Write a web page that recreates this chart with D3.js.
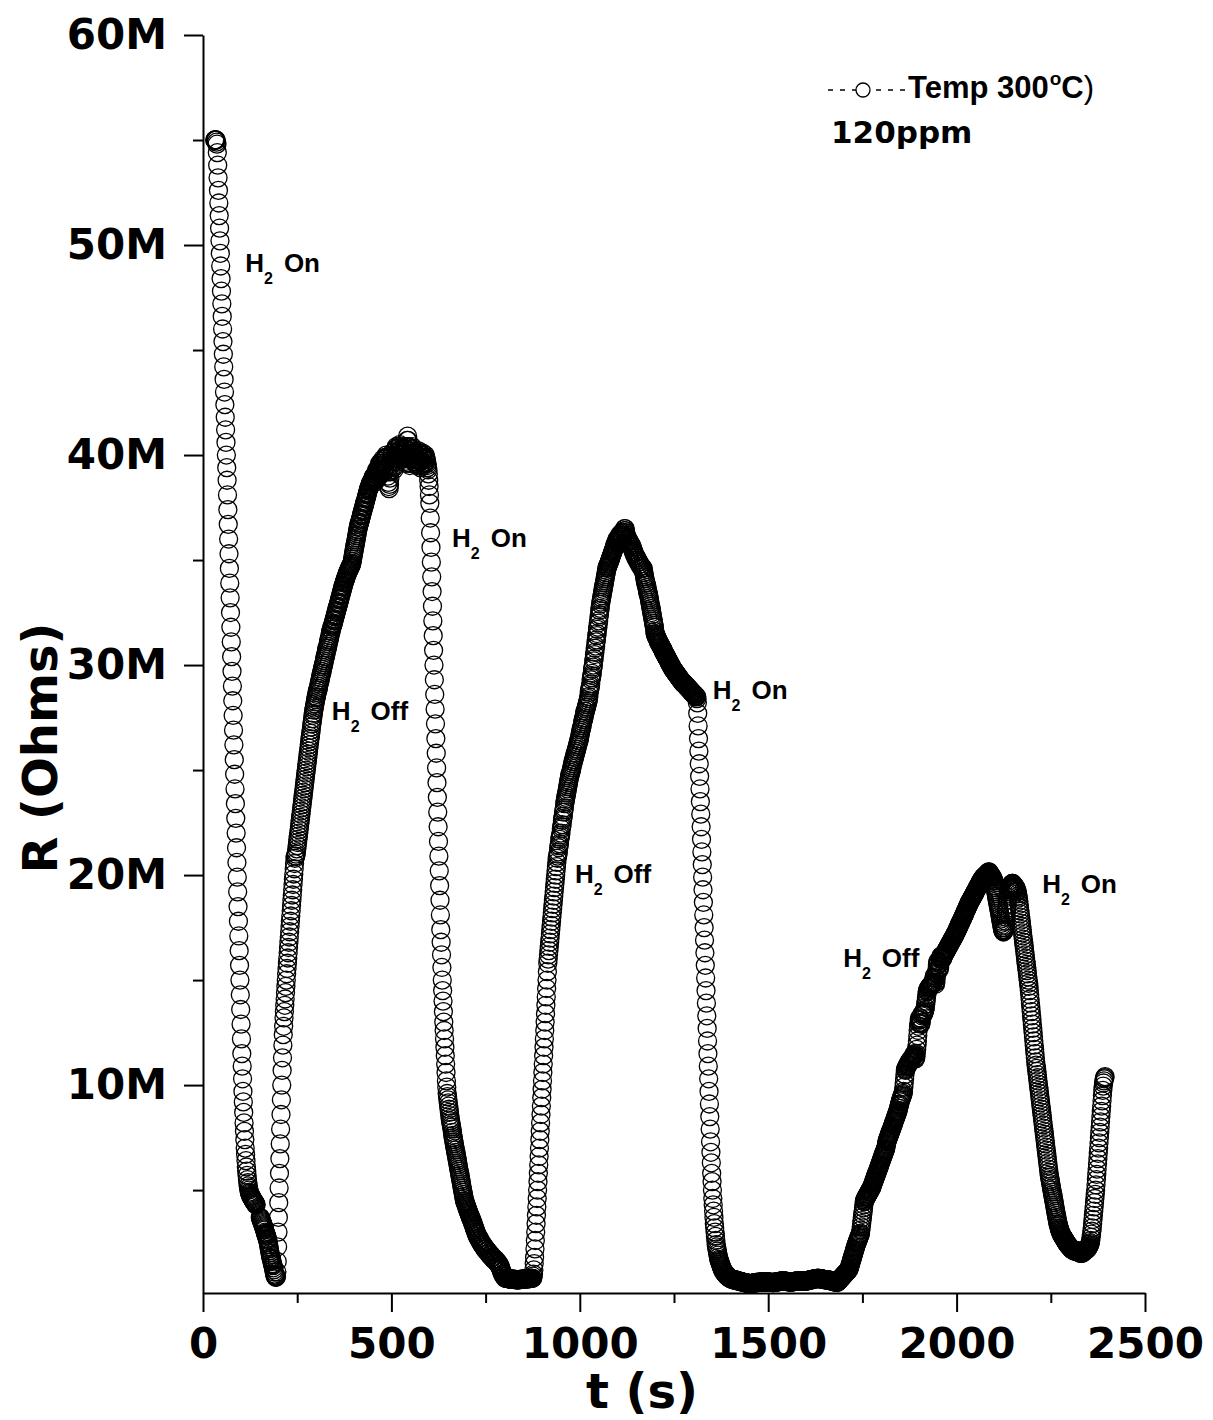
<!DOCTYPE html>
<html>
<head>
<meta charset="utf-8">
<script src="https://cdn.jsdelivr.net/npm/d3@7"></script>
<style>
  body { margin: 0; background: #fff; }
  svg { display: block; }
</style>
</head>
<body>
<svg id="chart" width="1213" height="1420"></svg>
<script>
// Sensor resistance R (MΩ), one reading per second.
// Each run is a contiguous stretch of readings beginning at runStarts[i] seconds.
const fall1 = [
  55.0,55.0,55.0,55.0,55.0,54.9,54.8,
  54.4,53.8,53.2,52.6,52.0,51.4,50.8,50.2,49.6,49.0,
  48.4,47.8,47.2,46.6,46.0,45.4,44.8,44.2,43.6,43.0,
  42.4,41.8,41.2,40.6,40.0,39.4,38.8,38.1,37.4,36.7,
  36.0,35.3,34.6,33.9,33.2,32.5,31.8,31.1,30.4,29.7,
  29.0,28.3,27.6,26.9,26.2,25.5,24.8,24.1,23.4,22.7,
  22.0,21.3,20.6,19.9,19.2,18.5,17.8,17.1,16.4,15.7,
  15.0,14.3,13.6,12.9,12.2,11.5,10.9,10.3,9.7,9.2,
  8.7,8.2,7.8,7.4,7.0,6.7,6.4,6.1,5.9,5.7,
  5.5,5.35,5.2,5.1,5.0,4.9,4.85,4.8,4.75,4.7,
  4.7,4.65,4.6,4.6,4.55,4.5,4.5,4.45,4.45,4.4,
  4.4,4.35,4.3,4.3
];
const tail1 = [
  3.7,3.65,3.6,3.55,3.5,3.45,3.4,3.35,3.3,3.25,
  3.2,3.15,3.1,3.0,2.95,2.9,2.85,2.8,2.7,2.65,
  2.6,2.5,2.4,2.3,2.2,2.1,2.0,1.9,1.8,1.75,
  1.7,1.6,1.5,1.45,1.4,1.3,1.2,1.1,1.0,0.95,
  0.9,0.85
];
const rise1 = [
  0.85,0.9,1.1,1.6,
  2.3,3.0,3.7,4.4,5.1,5.8,6.5,7.2,7.9,8.6,9.3,10.0,10.7,11.3,11.9,12.4,12.8,13.2,
  13.5,13.8,14.1,14.4,14.7,15.0,15.3,15.55,15.8,16.05,
  16.3,16.55,16.8,17.05,17.3,17.55,17.8,18.05,18.3,18.55,
  18.8,19.05,19.3,19.55,19.8,20.05,20.3,20.55,20.8,
  20.9,20.9,21.0,21.1,
  21.25,21.4,21.55,21.7,21.85,22.0,22.15,22.3,22.45,22.6,
  22.75,22.9,23.05,23.2,23.35,23.5,23.65,23.8,23.95,24.1,
  24.25,24.4,24.55,24.7,24.85,25.0,25.15,25.3,25.45,25.6,
  25.75,25.9,26.05,26.2,26.35,26.5,26.6,26.75,26.9,27.05,
  27.2,27.3,27.45,27.6,27.7,27.85,27.95,28.05,28.15,28.25,
  28.35,28.45,
  28.5,28.6,28.7,28.8,28.8,28.9,29.0,29.1,29.2,29.2,
  29.3,29.4,29.5,29.6,29.6,29.7,29.8,29.9,30.0,30.0,
  30.1,30.2,30.3,30.4,30.4,30.5,30.6,30.7,30.8,30.8,
  30.9,31.0,31.1,31.2,31.2,31.3,31.4,31.5,31.6,31.6,
  31.7,31.8,
  31.85,31.9,31.95,32.0,32.1,32.15,32.2,32.3,32.35,32.4,
  32.5,32.55,32.6,32.7,32.75,32.8,32.9,32.95,33.0,33.1,
  33.15,33.2,33.3,33.35,33.4,33.5,33.55,33.6,33.7,33.75,
  33.8,33.9,33.95,34.0,34.05,34.1,34.15,34.2,34.25,34.3,
  34.35,34.4,34.45,34.5,34.5,34.55,34.6,34.65,34.7,34.7,
  34.75,34.8,34.85,
  34.95,35.05,35.15,35.25,35.35,35.45,35.55,35.65,35.75,35.85,
  35.95,36.05,36.15,36.25,36.35,36.45,36.55,36.6,36.7,36.75,
  36.8,36.9,
  36.95,37.0,37.1,37.15,37.2,37.3,37.35,37.4,37.5,37.55,
  37.6,37.7,37.75,37.8,37.9,37.95,38.0,38.1,38.15,38.2,
  38.3,38.35,38.4,38.45,38.5,38.55,38.6,38.65,38.7,38.7,
  38.75,38.8,
  38.85,38.9,38.95,39.0,38.9,38.8,38.7,38.8,38.95,39.1,
  39.2,39.3,39.2,39.0,38.9,39.0,39.2,39.4,39.5,39.6,
  39.5,39.3,39.1,39.2,39.4,39.6,39.7,39.8,39.7,39.5,
  39.3,39.2,39.4,39.6,39.8,39.9,40.0,39.9,39.7,39.5,
  39.2,39.0,38.7,38.5,38.4,38.6,38.9,39.2,39.5,39.7,
  39.9,40.0,40.1,40.0,39.8,39.6,39.4,39.3,39.5,39.7,
  39.9,40.1,40.3,40.4,40.3,40.1,39.9,39.8,40.0,40.2,
  40.2,40.4,40.5,40.4,40.3,40.2,40.1,40.0,39.9,39.8,
  39.8,39.9,40.1,40.3,40.4,40.3,40.1,39.9,39.7,39.6,
  40.0,40.4,40.7,40.9,40.7,40.4,40.1,39.8,39.6,39.5,
  39.6,39.8,40.0,40.2,40.3,40.4,40.3,40.1,39.9,39.8,
  39.7,39.8,40.0,40.1,40.0,39.8,39.6,39.5,39.6,39.8,
  40.0,40.1,40.2,40.1,39.9,39.7,39.5,39.4,39.5,39.7,
  39.9,40.0,40.1,40.0,39.8,39.6,39.5,39.6,39.8,39.9,
  40.0,39.9,39.8,39.7,39.6,39.5,39.4,39.3
];
const fall2 = [
  39.1,38.8,38.5,38.1,37.7,
  37.0,36.3,35.6,34.9,34.2,33.5,32.8,32.1,31.4,30.7,
  30.0,29.3,28.6,27.9,27.2,26.5,25.8,25.1,24.4,23.7,
  23.0,22.3,21.6,20.9,20.2,19.5,18.8,18.1,17.4,16.8,
  16.2,15.6,15.0,14.5,14.0,
  13.5,13.0,12.6,12.2,11.8,11.4,11.0,10.6,10.2,9.9,9.6,
  9.45,9.3,9.15,9.0,8.85,8.7,8.55,8.4,8.3,8.2,
  8.1,8.0,7.9,7.75,7.6,7.5,7.4,7.3,7.2,7.1,
  7.0,6.9,6.8,6.7,6.6,6.5,6.4,6.3,6.2,6.1,
  6.0,5.9,5.8,5.7,5.6,5.5,5.4,5.3,5.2,5.1,
  5.0,4.9,4.8,4.7,4.6,4.5,4.45,
  4.4,4.35,4.3,4.25,4.2,4.15,4.1,4.05,4.0,3.95,3.9,3.85,3.8,3.75,3.7,3.65,
  3.6,3.6,3.5,3.5,3.4,3.4,3.3,3.3,3.2,3.2,
  3.1,3.1,3.0,3.0,2.9,2.9,2.8,2.8,2.8,2.7,
  2.7,2.7,2.6,2.6,2.6,2.5,2.5,2.5,2.4,2.4,
  2.4,2.4,2.3,2.3,2.3,2.3,2.2,2.2,2.2,2.2,
  2.1,2.1,2.1,2.1,2.1,2.0,2.0,2.0,2.0,1.9,
  1.9,1.9,1.9,1.9,1.8,1.8,1.8,1.8,1.8,1.7,
  1.7,1.7,1.7,1.7,1.7,1.6,1.6,1.6,1.6,1.6,
  1.5,1.5,1.5,1.5,1.4,1.4,1.4,
  1.3,1.3,1.2,1.2,1.1,1.1,1.0,1.0,1.0,0.9,0.9,0.9,0.9,0.8,0.8,0.8,0.8,
  0.8,0.8,0.79,0.79,0.79,0.78,0.78,0.78,0.77,0.77,
  0.77,0.76,0.76,0.76,0.76,0.75,0.75,0.75,0.75,0.75,
  0.75,0.75,0.75,0.75,0.74,0.74,0.74,0.74,0.74,0.74,
  0.74,0.74,0.74,0.74,0.74,0.75,0.75,0.75,0.75,0.75,
  0.75,0.75,0.76,0.76,0.76,0.76,0.76,0.77,0.77,0.77,
  0.77,0.77,0.78,0.78,0.78,0.78,0.78,0.78,0.79,0.79,
  0.79,0.79,0.79,0.79,0.8,0.8,0.8,0.8,0.8
];
const rise2 = [
  0.8,0.9,1.0,1.2,1.5,1.8,
  2.2,2.6,3.0,3.4,3.8,4.2,4.6,5.0,5.4,5.8,
  6.2,6.6,7.0,7.4,7.8,8.2,8.6,9.0,9.4,9.8,
  10.2,10.6,11.0,11.4,11.8,12.2,12.6,13.0,13.4,13.8,
  14.2,14.6,15.0,15.4,15.8,
  16.0,16.2,16.4,16.6,16.8,17.0,17.2,17.4,17.6,17.8,
  18.0,18.2,18.4,18.6,18.8,19.0,19.2,19.4,19.6,19.8,
  20.0,20.2,20.4,20.6,20.8,
  20.9,21.0,21.1,21.3,21.4,21.5,21.7,21.8,21.9,22.0,
  22.2,22.3,22.4,22.6,22.7,22.8,23.0,23.1,23.2,23.4,23.5,
  23.6,23.7,23.8,23.9,24.0,24.1,24.2,24.3,24.4,24.5,
  24.6,24.7,24.8,24.8,24.9,25.0,25.0,25.1,
  25.2,25.3,25.4,25.4,25.5,25.6,25.6,25.7,25.8,25.8,
  25.9,26.0,26.0,26.1,26.2,26.2,26.3,26.4,26.4,26.5,26.6,26.7,
  26.8,26.9,27.0,27.0,27.1,27.2,27.3,27.4,27.4,27.5,
  27.6,27.7,27.8,27.8,27.9,28.0,28.0,28.1,28.2,28.2,28.3,
  28.4,28.5,28.7,28.8,28.9,29.0,29.1,29.3,29.4,29.5,29.6,29.8,29.9,
  30.0,30.2,30.3,30.5,30.6,30.8,30.9,31.1,31.2,31.4,31.5,
  31.7,31.8,32.0,32.1,32.3,32.4,32.6,32.7,32.9,33.0,
  33.1,33.2,33.3,33.4,33.5,33.6,33.7,33.8,33.9,34.0,34.1,34.2,34.3,34.4,34.5,34.6,
  34.65,34.7,34.75,34.8,34.85,34.9,34.95,35.0,35.05,35.1,
  35.15,35.2,35.25,35.3,35.35,35.4,35.45,35.5,35.55,35.6,35.7,
  35.7,35.8,35.8,35.9,35.9,36.0,36.0,35.9,35.8,35.9,
  36.0,36.1,36.2,36.1,36.0,36.1,36.2,36.3,36.2,36.1,
  36.0,36.1,36.2,36.3,36.4,36.5,36.5,36.4,36.3,36.2,
  36.1,36.1,36.0,36.0,36.0,35.9,35.9,35.9,35.8,35.8,
  35.8,35.7,35.7,35.7,35.6,35.6,35.5,35.5,35.4,35.4,35.3,35.3,35.2,
  35.2,35.2,35.1,35.1,35.1,35.0,35.0,35.0,34.9,34.9,
  34.9,34.8,34.8,34.8,34.7,34.7,34.7,34.7,34.6,34.6,34.6,34.6,
  34.5,34.4,34.3,34.2,34.1,34.0,33.9,33.9,33.8,33.7,
  33.6,33.5,33.4,33.4,33.3,33.2,33.1,33.0,
  32.9,32.8,32.7,32.6,32.5,32.4,32.3,32.2,32.1,32.0,31.9,31.8,31.6,31.5,
  31.45,31.4,31.35,31.3,31.3,31.25,31.2,31.15,31.1,31.1,
  31.05,31.0,31.0,30.95,30.9,30.9,30.85,30.8,30.8,30.75,30.7,
  30.65,30.6,30.6,30.55,30.5,30.5,30.45,30.4,30.4,30.35,
  30.3,30.3,30.25,30.2,30.2,30.15,30.1,30.1,30.05,30.0,
  30.0,29.95,29.9,29.9,
  29.85,29.8,29.8,29.75,29.75,29.7,29.7,29.65,29.65,29.6,
  29.6,29.55,29.55,29.5,29.5,29.45,29.45,29.4,29.4,29.35,
  29.35,29.3,29.3,29.25,29.25,29.2,29.2,29.2,29.15,29.15,
  29.1,29.1,29.1,29.1,
  29.05,29.05,29.0,29.0,29.0,28.95,28.95,28.9,28.9,28.9,
  28.85,28.85,28.8,28.8,28.8,28.75,28.75,28.7,28.7,28.7,
  28.65,28.65,28.6,28.6,28.6,28.6,28.55,28.55,28.5,28.5,
  28.5,28.4
];
const fall3 = [
  28.2,27.7,27.1,26.5,25.9,25.3,24.7,24.1,23.5,22.9,
  22.3,21.7,21.1,20.5,19.9,19.3,18.7,18.1,17.5,16.9,
  16.3,15.7,15.1,14.5,13.9,13.3,12.7,12.1,11.5,10.9,
  10.3,9.7,9.1,8.5,7.9,7.3,6.8,6.3,5.8,5.4,
  5.0,4.6,4.3,4.0,3.7,3.4,3.2,3.0,2.8,2.6,
  2.4,2.3,2.2,2.1,2.0,1.9,1.8,1.7,1.65,1.6,
  1.55,1.5,1.45,1.4,1.35,1.3,1.25,1.2,1.2,1.15,
  1.1,1.1,1.05,1.05,1.0,1.0,1.0,0.95,0.95,0.9,
  0.9,0.9,0.85,0.85,0.85,0.8,0.8,0.8,0.8,
  0.78,0.77,0.76,0.76,0.75,0.75,0.74,0.74,0.73,0.73,
  0.72,0.72,0.71,0.71,0.7,0.7,0.7,0.69,0.69,0.68,
  0.68,0.67,0.67,0.66,0.66,0.65,0.65,0.64,0.64,0.63,
  0.63,0.62,0.62,0.61,0.61,0.6,0.6,0.6,0.59,0.59,
  0.58,0.58,0.58,0.57,0.57,0.57,0.56,0.56,0.56,0.56,
  0.55,0.55,0.55,0.55,0.55,0.56,0.56,0.56,0.57,0.57,
  0.57,0.58,0.58,0.58,0.59,0.59,0.59,0.6,0.6,0.6,
  0.6,0.6,0.61,0.61,0.61,0.61,0.62,0.62,0.62,0.62,
  0.62,0.62,0.63,0.63,0.63,0.63,0.63,0.63,0.64,0.64,
  0.64,0.64,0.64,0.64,0.64,0.63,0.63,0.63,0.63,0.62,
  0.62,0.62,0.62,0.62,0.61,0.61,0.61,0.61,0.61,0.6,
  0.6,0.6,0.6,0.6,0.6,0.61,0.61,0.61,0.62,0.62,
  0.62,0.63,0.63,0.63,0.64,0.64,0.64,0.65,0.65,0.65,
  0.66,0.66,0.66,0.66,0.67,0.67,0.67,0.67,0.67,0.67,
  0.67,0.67,0.67,0.66,0.66,0.66,0.66,0.65,0.65,0.65,
  0.65,0.64,0.64,0.64,0.64,0.63,0.63,0.63,0.63,0.63,
  0.63,0.63,0.63,0.64,0.64,0.64,0.64,0.65,0.65,0.65,
  0.65,0.66,0.66,0.66,0.66,0.66,0.67,0.67,0.67,0.67,
  0.67,0.67,0.67,0.67,0.67,0.67,0.67,0.67,0.66,0.66,
  0.66,0.66,0.66,0.66,0.66,0.66,0.66,0.67,0.67,0.67,
  0.68,0.68,0.68,0.69,0.69,0.7,0.7,0.7,0.71,0.71,
  0.72,0.72,0.73,0.73,0.74,0.74,0.75,0.75,0.76,0.76,
  0.77,0.77,0.77,0.78,0.78,0.78,0.78,0.79,0.79,0.79,
  0.79,0.79,0.79,0.79,0.79,0.79,0.78,0.78,0.78,0.78,
  0.77,0.77,0.77,0.76,0.76,0.76,0.75,0.75,0.75,0.74,
  0.74,0.74,0.73,0.73,0.73,0.72,0.72,0.72,0.71,0.71,
  0.71,0.7,0.7,0.7,0.69,0.69,0.68,0.68,0.67,0.67,
  0.66,0.66,0.65,0.65,0.64,0.64,0.63,0.63,0.62,0.62,
  0.61,0.61
];
const rise3 = [
  0.6,0.62,0.64,0.66,0.68,0.7,0.72,0.74,0.76,0.78,
  0.8,0.82,0.84,0.86,0.88,0.9,0.92,0.94,
  0.96,0.98,1.0,1.02,1.04,1.06,1.08,1.1,1.12,1.14,1.16,1.18,1.2,1.22,
  1.28,1.34,1.4,1.46,1.52,1.58,1.64,1.7,1.76,1.82,
  1.88,1.94,2.0,2.06,2.12,2.18,2.24,2.3,2.36,2.42,
  2.48,2.52,2.56,2.6,
  2.65,2.7,2.75,2.8,2.85,2.9,2.95,
  3.1,3.25,3.4,3.55,3.7,3.85,4.0,4.15,4.3,4.45,
  4.5,4.55,4.6,4.6,4.65,4.7,4.7,4.75,4.8,4.8,
  4.85,4.9,4.9,4.95,5.0,5.0,5.05,5.1,5.1,5.15,
  5.2,5.25,5.3,
  5.35,5.4,5.45,5.5,5.55,5.6,5.65,5.7,5.75,5.8,
  5.85,5.9,5.95,6.0,6.05,6.1,6.15,6.2,6.25,6.3,
  6.35,6.4,6.45,6.5,6.55,6.6,6.65,6.7,6.75,6.8,
  6.85,6.9,6.95,7.0,7.1,7.2,7.3,
  7.35,7.4,7.45,7.5,7.55,7.6,7.65,7.7,7.75,7.8,
  7.85,7.9,7.95,8.0,8.05,8.1,8.15,8.2,8.25,8.3,
  8.35,8.4,8.45,8.5,8.55,8.6,8.65,8.7,8.75,8.8,
  8.9,9.0,9.05,9.1,9.2,
  9.25,9.3,9.35,9.4,9.45,9.5,9.55,9.6,9.7,9.9,
  10.1,10.3,10.5,10.7,10.75,10.8,10.85,10.9,10.9,10.95,
  11.0,11.0,11.05,11.1,11.1,11.15,11.15,11.2,11.2,11.25,
  11.25,11.3,11.3,11.3,
  11.35,11.4,11.45,11.5,11.4,11.3,11.25,11.35,11.5,11.7,
  11.9,12.1,12.35,12.6,12.8,12.95,13.1,13.2,13.1,12.95,
  12.9,13.0,13.15,13.3,13.4,13.4,13.35,
  13.4,13.45,13.5,13.55,13.6,13.7,13.85,14.0,14.15,14.3,
  14.45,14.5,14.55,14.6,14.6,14.65,14.65,14.7,14.7,14.75,
  14.75,14.8,14.8,14.8,14.85,14.85,
  14.9,15.0,15.1,15.2,15.1,14.9,14.8,14.9,15.1,15.3,
  15.5,15.7,15.85,15.9,15.8,15.6,15.5,15.6,15.8,16.0,
  16.1,16.15,16.1,16.0,16.0,16.05,16.1,
  16.15,16.2,16.2,16.25,16.3,16.3,16.35,16.4,16.4,16.45,
  16.5,16.5,16.55,16.6,16.6,16.65,16.7,16.7,16.75,16.8,
  16.8,16.85,16.9,16.9,16.95,17.0,17.0,17.05,17.1,17.1,
  17.15,17.2,17.2,17.25,17.3,17.3,17.35,
  17.4,17.45,17.5,17.5,17.55,17.6,17.65,17.7,17.7,17.75,
  17.8,17.85,17.9,17.9,17.95,18.0,18.05,18.1,18.1,18.15,
  18.2,18.25,18.3,18.3,18.35,18.4,18.45,18.5,18.5,18.55,
  18.6,18.65,18.7,18.7,18.75,
  18.8,18.8,18.85,18.9,18.9,18.95,19.0,19.0,19.05,19.1,
  19.1,19.15,19.2,19.2,19.25,19.3,19.3,19.35,19.4,19.4,
  19.45,19.5,19.5,19.55,19.6,19.6,19.65,19.7,19.7,19.75,
  19.8,19.8,19.85,19.85,
  19.9,19.9,19.9,19.95,19.95,19.95,20.0,20.0,20.0,20.05,
  20.05,20.1,20.1,20.1,20.15,20.15,20.1,20.1,20.05,20.0,
  20.0,19.95,19.95,19.9,
  19.9,19.85,19.8,19.75,19.7,19.6,19.5,19.4,19.3,19.2,
  19.1,19.0,18.9,18.8,18.7,18.6,18.5,18.4,18.3,18.2,
  18.1,18.0,17.9,17.8,17.7,17.6,17.5,17.4,17.35,17.3,
  17.3,17.35,17.4,17.5,17.6,17.8,18.0,18.2,18.4,18.6,
  18.8,18.95,19.1,19.2,19.3,19.35,19.4,19.45,19.5,19.5,
  19.55,19.55,19.6,19.6,19.6,19.55,19.55,19.5,19.5,19.45,
  19.45,19.4,19.4,19.35,19.3,19.25
];
const fall4 = [
  19.2,19.1,19.0,18.9,18.75,18.6,18.45,18.3,18.15,18.0,
  17.85,17.7,17.55,17.4,17.25,17.1,16.95,16.8,16.65,16.5,
  16.35,16.2,16.05,15.9,15.75,15.6,15.45,15.3,15.15,15.0,
  14.85,14.7,
  14.5,14.3,14.1,13.9,13.7,13.5,13.3,13.1,12.9,12.7,
  12.5,12.3,12.1,11.9,11.7,11.5,11.3,11.1,10.95,10.8,
  10.65,10.5,10.35,10.2,10.05,9.9,9.75,9.6,9.45,9.3,
  9.15,9.0,8.85,8.7,8.55,8.4,8.25,8.1,7.95,7.8,
  7.65,7.5,7.35,7.2,7.05,6.9,6.75,6.6,6.45,6.3,
  6.15,6.0,5.85,5.7,5.6,5.5,5.4,5.3,
  5.2,5.1,5.0,4.9,4.8,4.7,4.6,4.5,4.4,4.3,
  4.2,4.1,4.0,3.9,3.8,3.7,3.6,3.5,3.4,3.35,
  3.3,3.2,3.15,3.1,3.05,3.0,2.95,2.9,
  2.87,2.84,2.81,2.78,2.75,2.72,2.69,2.66,2.63,2.6,
  2.57,2.54,2.51,2.48,2.45,2.42,2.4,2.38,2.36,2.34,
  2.32,2.3,2.28,2.26,2.24,2.22,2.2,2.18,2.16,2.15,
  2.14,2.13,2.12,2.11,2.1,2.1,2.1,2.1,2.1,2.1,
  2.1,2.1,
  2.1,2.1,2.05,2.05,2.05,2.05,2.0,2.0,2.0,2.0,
  2.0,2.0,2.0,2.0,2.05,2.05,2.05,2.1,2.1,2.1,
  2.1,2.15,2.15,2.15,2.2,2.2,2.2,2.25,2.25,2.3,
  2.3,2.35,2.4,2.45
];
const rise4 = [
  2.5,2.6,2.75,2.9,3.05,3.2,3.4,3.6,3.8,4.0,
  4.2,4.4,4.6,4.8,5.0,5.25,5.5,5.75,6.0,6.25,
  6.5,6.75,7.0,7.25,7.5,7.75,8.0,8.25,8.5,8.75,
  9.0,9.25,9.5,9.75,9.95,10.1,10.2,10.3,10.35,10.4
];
const runStarts = [31, 152, 194, 598, 875, 1312, 1683, 2161, 2355];
const runs = [fall1, tail1, rise1, fall2, rise2, fall3, rise3, fall4, rise4];

const xTicks = [0, 500, 1000, 1500, 2000, 2500];
const xMinorTicks = [250, 750, 1250, 1750, 2250];
const yTicks = [10, 20, 30, 40, 50, 60];
const yMinorTicks = [5, 15, 25, 35, 45, 55];
const yTickLabels = ["10M", "20M", "30M", "40M", "50M", "60M"];

// Gas switching annotations, anchored in data units (t in s, R in MΩ)
const gasStates = ["On", "Off", "On", "Off", "On", "Off", "On"];
const gasLabelT = [112, 342, 661, 987, 1353, 1699, 2227];
const gasLabelR = [48.7, 27.4, 35.6, 19.6, 28.4, 15.6, 19.15];

const seriesName = "Temp 300";
const concentration = "120ppm";

const points = runs.flatMap((vals, i) => vals.map((r, k) => ({ t: runStarts[i] + k, r })));

const svg = d3.select("#chart");
const x = d3.scaleLinear().domain([0, 2500]).range([203, 1145]);
const y = d3.scaleLinear().domain([0.1, 60]).range([1293, 35]);

const tickFont = "'DejaVu Sans', Verdana, sans-serif";
const arialFont = "'Liberation Sans', Arial, Helvetica, sans-serif";

// Data markers: open circles
svg.append("g")
  .attr("fill", "none")
  .attr("stroke", "#000")
  .attr("stroke-width", 1.3)
  .selectAll("circle")
  .data(points)
  .join("circle")
  .attr("cx", d => x(d.t))
  .attr("cy", d => y(d.r))
  .attr("r", 9);

// Axes
function styleAxis(g) {
  g.select(".domain").attr("stroke", "#000").attr("stroke-width", 2);
  g.selectAll(".tick line").attr("stroke", "#000").attr("stroke-width", 2);
  g.selectAll(".tick text")
    .attr("fill", "#000")
    .attr("font-family", tickFont)
    .attr("font-weight", "bold")
    .attr("font-size", 42);
}

svg.append("g")
  .attr("transform", `translate(${x(0)},0)`)
  .call(d3.axisLeft(y).tickValues(yTicks).tickSize(19).tickSizeOuter(0).tickPadding(17)
    .tickFormat((d, i) => yTickLabels[i]))
  .call(styleAxis);

svg.append("g")
  .attr("transform", `translate(${x(0)},0)`)
  .call(d3.axisLeft(y).tickValues(yMinorTicks).tickSize(10).tickSizeOuter(0).tickFormat(""))
  .call(g => g.select(".domain").remove())
  .call(g => g.selectAll(".tick line").attr("stroke", "#000").attr("stroke-width", 2));

svg.append("g")
  .attr("transform", `translate(0,${y(0.1)})`)
  .call(d3.axisBottom(x).tickValues(xTicks).tickSize(19).tickSizeOuter(0).tickPadding(16)
    .tickFormat(d3.format("d")))
  .call(styleAxis);

svg.append("g")
  .attr("transform", `translate(0,${y(0.1)})`)
  .call(d3.axisBottom(x).tickValues(xMinorTicks).tickSize(10).tickSizeOuter(0).tickFormat(""))
  .call(g => g.select(".domain").remove())
  .call(g => g.selectAll(".tick line").attr("stroke", "#000").attr("stroke-width", 2));

// Axis titles
svg.append("text")
  .attr("x", 642).attr("y", 1408)
  .attr("text-anchor", "middle")
  .attr("font-family", tickFont).attr("font-weight", "bold").attr("font-size", 48)
  .text("t (s)");

svg.append("text")
  .attr("transform", "translate(57,748) rotate(-90)")
  .attr("text-anchor", "middle")
  .attr("font-family", tickFont).attr("font-weight", "bold").attr("font-size", 48)
  .text("R (Ohms)");

// H2 on/off annotations
gasStates.forEach((state, i) => {
  const t = svg.append("text")
    .attr("x", x(gasLabelT[i])).attr("y", y(gasLabelR[i]))
    .attr("font-family", arialFont).attr("font-weight", "bold").attr("font-size", 26)
    .attr("fill", "#000");
  t.append("tspan").text("H");
  t.append("tspan").attr("font-size", 16).attr("dy", 12).text("2");
  t.append("tspan").attr("dy", -12).attr("dx", 11).text(state);
});

// Legend
const legend = svg.append("g");
legend.append("line")
  .attr("x1", 828).attr("x2", 905).attr("y1", 90).attr("y2", 90)
  .attr("stroke", "#000").attr("stroke-width", 1.6).attr("stroke-dasharray", "5 7");
legend.append("circle")
  .attr("cx", 863).attr("cy", 90).attr("r", 7)
  .attr("fill", "#fff").attr("stroke", "#000").attr("stroke-width", 1.3);
const lt = legend.append("text")
  .attr("x", 908).attr("y", 98)
  .attr("font-family", arialFont).attr("font-weight", "bold").attr("font-size", 31);
lt.append("tspan").text(seriesName);
lt.append("tspan").attr("font-size", 19).attr("dy", -13).attr("dx", 1).text("o");
lt.append("tspan").attr("dy", 13).text("C");
lt.append("tspan").attr("font-weight", "normal").text(")");

legend.append("text")
  .attr("x", 831).attr("y", 143)
  .attr("font-family", tickFont).attr("font-weight", "bold").attr("font-size", 31)
  .text(concentration);
</script>
</body>
</html>
